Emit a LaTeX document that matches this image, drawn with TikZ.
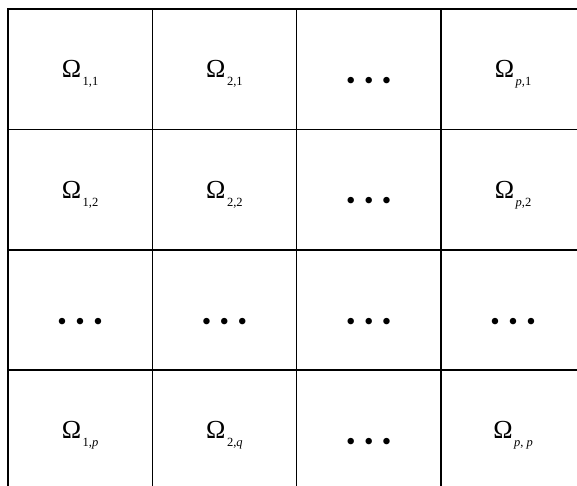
\documentclass[tikz,border=0pt]{standalone}
\usepackage{fontspec}
\setmainfont{Liberation Serif}
\usepackage{tikz}

\newcommand{\subdom}[1]{\fontsize{26}{27}\selectfont Ω\hspace{1.5pt}\raisebox{-8pt}{\fontsize{12.5}{13}\selectfont #1}}
\newcommand{\celldots}{\fontsize{27}{27}\selectfont •\hspace{8.5pt}•\hspace{8.5pt}•}

\tikzset{
  cellline/.style={line width=1.5pt, black},
  domlabel/.style={anchor=base, yshift=-8.5pt, inner sep=0pt},
  dotlabel/.style={anchor=base, yshift=-20pt, inner sep=0pt}
}

\begin{document}
\begin{tikzpicture}[x=1pt, y=-1pt]
    \useasboundingbox (0,0) rectangle (577,486);
    \clip (0,0) rectangle (577,486);
    \fill[white] (0,0) rectangle (577,486);
    % grid of subdomains, right column and bottom row run off the page
    \foreach \c in {1,...,4} {
      \foreach \r in {1,...,4} {
        \draw[cellline] ({8+144.3*(\c-1)},{9+120.4*(\r-1)}) rectangle ++(144.3,120.4);
        \coordinate (c\c\r) at ({8+144.3*(\c-0.5)},{9+120.4*(\r-0.5)});
      }
    }
    % first row
    \node[domlabel] (om11) at (c11) {\subdom{1,1}};
    \node[domlabel] (om21) at (c21) {\subdom{2,1}};
    \node[dotlabel] (dt31) at (c31) {\celldots};
    \node[domlabel] (omp1) at (c41) {\subdom{\textit{p},1}};
    % second row
    \node[domlabel] (om12) at (c12) {\subdom{1,2}};
    \node[domlabel] (om22) at (c22) {\subdom{2,2}};
    \node[dotlabel] (dt32) at (c32) {\celldots};
    \node[domlabel] (omp2) at (c42) {\subdom{\textit{p},2}};
    % third row
    \foreach \c in {1,...,4} {
      \node[dotlabel] (dt\c3) at (c\c3) {\celldots};
    }
    % last row
    \node[domlabel] (om1p) at (c14) {\subdom{1,\textit{p}}};
    \node[domlabel] (om2q) at (c24) {\subdom{2,\textit{q}}};
    \node[dotlabel] (dt34) at (c34) {\celldots};
    \node[domlabel] (ompp) at (c44) {\subdom{\textit{p}, \textit{p}}};
\end{tikzpicture}
\end{document}
